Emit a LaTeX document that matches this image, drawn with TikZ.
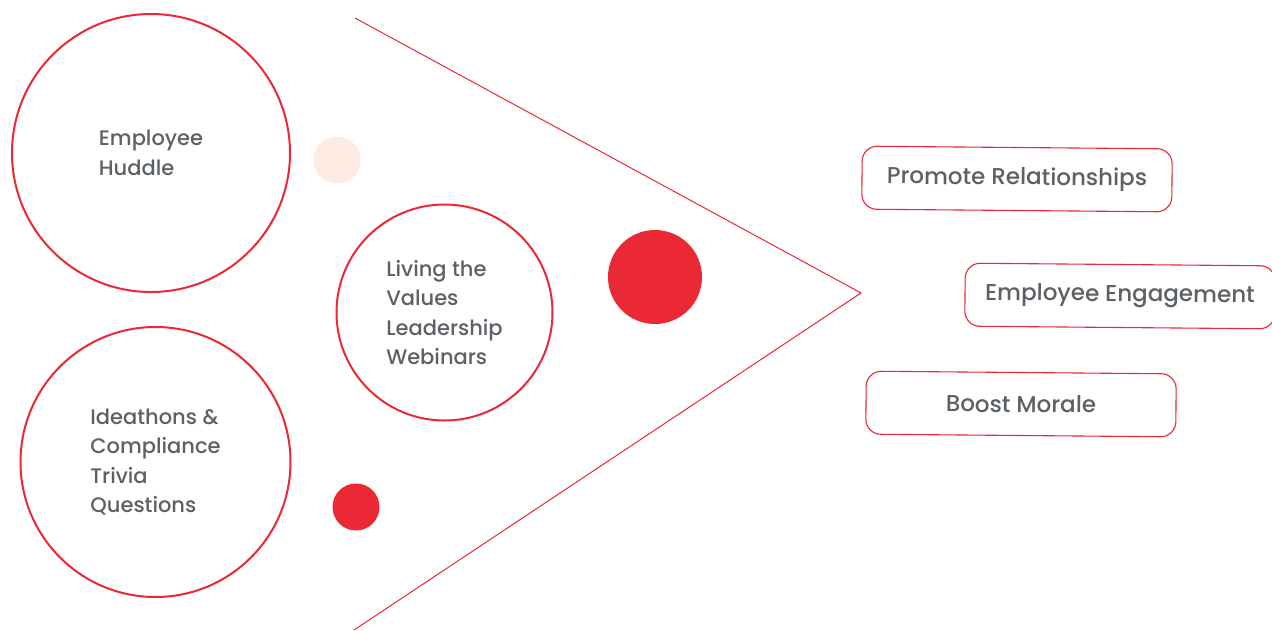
\documentclass[tikz,border=0pt]{standalone}
\usepackage{fontspec}
\setmainfont{Poppins Medium}
\definecolor{brandred}{HTML}{EA2934}
\definecolor{palepink}{HTML}{FCEAE3}
\definecolor{txtgray}{HTML}{5C6166}
\tikzset{
  ringnode/.style={circle, draw=brandred, line width=2pt, inner sep=0pt, align=left,
    text=txtgray, font=\fontsize{21}{29.5}\selectfont},
  dotnode/.style={circle, fill=brandred, draw=none, inner sep=0pt},
  palenode/.style={circle, fill=palepink, draw=none, inner sep=0pt},
  pillnode/.style={rounded corners=15pt, draw=brandred, line width=1.1pt, minimum width=310pt,
    minimum height=63pt, inner sep=0pt, text=txtgray, font=\fontsize{23}{26}\selectfont, rotate=-0.5},
  funnel/.style={draw=brandred, line width=1pt}
}
\begin{document}
\begin{tikzpicture}[x=1pt,y=-1pt]
\useasboundingbox (0,0) rectangle (1272,630);
\clip (0,0) rectangle (1272,630);
\fill[white] (0,0) rectangle (1272,630);
% funnel lines
\coordinate (ftop) at (355,18);
\coordinate (fapex) at (861,293);
\coordinate (fbot) at (354,630);
\draw[funnel] (ftop) -- (fapex) -- (fbot);
% circles
\node[ringnode, minimum size=278pt] (huddle) at (151,153) {Employee\\Huddle};
\node[ringnode, minimum size=270pt] (ideathon) at (155.5,462) {Ideathons \&\\Compliance\\Trivia\\Questions};
\node[ringnode, minimum size=216pt] (living) at (444.5,312.5) {Living the\\Values\\Leadership\\Webinars};
% dots
\node[palenode, minimum size=47pt] (pale) at (337,160) {};
\node[dotnode, minimum size=94pt] (bigdot) at (655,277) {};
\node[dotnode, minimum size=47pt] (smalldot) at (356,507) {};
% outcome boxes
\node[pillnode] (promote) at (1017,179) {Promote Relationships};
\node[pillnode] (engage) at (1120,296) {Employee Engagement};
\node[pillnode] (morale) at (1021,404) {Boost Morale};
\end{tikzpicture}
\end{document}
